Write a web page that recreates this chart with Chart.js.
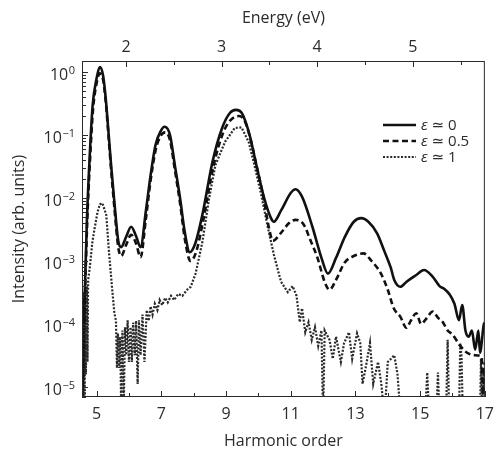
<!DOCTYPE html>
<html>
<head>
<meta charset="utf-8">
<script src="https://cdn.jsdelivr.net/npm/chart.js@4.4.1/dist/chart.umd.min.js"></script>
<style>
  html, body { margin: 0; background: #fff; }
  #wrap { width: 502px; height: 452px; }
</style>
</head>
<body>
<div id="wrap"><canvas id="hhg"></canvas></div>
<script>
// harmonic order / intensity
const orders0 = [4.55, 4.62, 4.70, 4.79, 4.88, 5.00, 5.10, 5.20, 5.28, 5.36, 5.45, 5.55, 5.67, 5.76, 5.91, 6.07, 6.22, 6.36, 6.52, 6.67, 6.82, 6.97, 7.10, 7.27, 7.42, 7.58, 7.73, 7.88, 8.05, 8.27, 8.58, 8.88, 9.12, 9.30, 9.50, 9.73, 9.94, 10.18, 10.39, 10.48, 10.70, 11.00, 11.15, 11.35, 11.67, 11.95, 12.15, 12.40, 12.67, 12.95, 13.18, 13.40, 13.67, 13.90, 14.09, 14.20, 14.39, 14.58, 14.88, 15.12, 15.39, 15.60, 15.75, 15.90, 16.06, 16.20, 16.30, 16.40, 16.50, 16.60, 16.70, 16.80, 16.85, 16.97, 17.00];
const eps0 = [3.2e-6, 1.6e-4, 4.2e-3, 4.8e-2, 0.30, 0.79, 1.2, 0.89, 0.40, 0.126, 0.033, 8.7e-3, 2.1e-3, 1.66e-3, 2.4e-3, 3.5e-3, 2.5e-3, 1.66e-3, 6.0e-3, 0.023, 0.069, 0.112, 0.135, 0.100, 0.033, 0.010, 2.8e-3, 1.38e-3, 1.9e-3, 5.4e-3, 0.037, 0.129, 0.224, 0.251, 0.219, 0.100, 0.033, 0.010, 4.8e-3, 4.2e-3, 6.3e-3, 0.012, 0.0138, 0.0105, 3.5e-3, 1.12e-3, 6.3e-4, 1.12e-3, 2.4e-3, 4.2e-3, 4.8e-3, 4.2e-3, 2.75e-3, 1.41e-3, 7.9e-4, 5.0e-4, 3.9e-4, 4.7e-4, 6.0e-4, 7.2e-4, 5.6e-4, 4.0e-4, 3.6e-4, 3.0e-4, 2.1e-4, 1.15e-4, 2.0e-4, 7.9e-5, 6.3e-5, 7.9e-5, 3.9e-5, 7.9e-5, 3.5e-5, 1.0e-4, 1.05e-4];

const orders05 = [4.55, 4.63, 4.71, 4.80, 4.89, 5.00, 5.10, 5.20, 5.28, 5.36, 5.45, 5.55, 5.67, 5.76, 5.91, 6.07, 6.22, 6.36, 6.52, 6.67, 6.82, 6.97, 7.12, 7.27, 7.42, 7.58, 7.73, 7.90, 8.08, 8.30, 8.60, 8.90, 9.15, 9.40, 9.58, 9.75, 9.96, 10.18, 10.32, 10.45, 10.70, 10.95, 11.15, 11.40, 11.60, 11.82, 12.06, 12.20, 12.40, 12.67, 12.95, 13.25, 13.50, 13.79, 14.00, 14.18, 14.39, 14.58, 14.70, 14.88, 15.03, 15.18, 15.39, 15.55, 15.70, 15.85, 16.00, 16.24, 16.45, 16.70, 16.90, 16.95, 17.00];
const eps05 = [3.2e-6, 1.6e-4, 4.0e-3, 0.042, 0.25, 0.66, 0.95, 0.76, 0.355, 0.112, 0.028, 7.1e-3, 1.66e-3, 1.2e-3, 1.78e-3, 2.6e-3, 1.9e-3, 1.15e-3, 4.5e-3, 0.019, 0.056, 0.095, 0.11, 0.083, 0.028, 8.3e-3, 2.2e-3, 1.0e-3, 1.41e-3, 4.5e-3, 0.030, 0.105, 0.174, 0.20, 0.166, 0.089, 0.030, 8.9e-3, 3.5e-3, 2.1e-3, 2.8e-3, 4.0e-3, 4.5e-3, 3.8e-3, 2.2e-3, 1.15e-3, 4.5e-4, 3.5e-4, 5.0e-4, 9.5e-4, 1.2e-3, 1.32e-3, 1.0e-3, 6.3e-4, 3.5e-4, 1.8e-4, 1.3e-4, 8.7e-5, 1.1e-4, 1.48e-4, 1.0e-4, 1.2e-4, 1.58e-4, 1.26e-4, 1.07e-4, 7.9e-5, 6.8e-5, 4.5e-5, 3.5e-5, 3.2e-5, 3.0e-5, 6.3e-6, 2.5e-5];

const orders1 = [4.55, 4.57, 4.59, 4.61, 4.63, 4.65, 4.67, 4.70, 4.72, 4.74, 4.79, 4.87, 4.94, 5.03, 5.10, 5.18, 5.30, 5.39, 5.48, 5.55, 5.60, 5.63, 5.66, 5.70, 5.73, 5.76, 5.80, 5.84, 5.88, 5.92, 5.96, 6.00, 6.05, 6.09, 6.13, 6.18, 6.22, 6.27, 6.31, 6.36, 6.42, 6.48, 6.55, 6.61, 6.67, 6.73, 6.80, 6.88, 6.95, 7.03, 7.12, 7.20, 7.30, 7.40, 7.52, 7.65, 7.80, 7.91, 8.06, 8.27, 8.48, 8.67, 8.97, 9.27, 9.48, 9.70, 9.88, 10.09, 10.30, 10.48, 10.70, 10.91, 11.06, 11.18, 11.28, 11.35, 11.45, 11.55, 11.65, 11.75, 11.85, 11.95, 12.00, 12.05, 12.20, 12.30, 12.40, 12.55, 12.65, 12.80, 12.90, 13.05, 13.15, 13.22, 13.35, 13.45, 13.55, 13.70, 13.80, 13.90, 14.00, 14.10, 14.20, 14.30, 14.40, 15.15, 15.22, 15.28, 15.50, 15.55, 15.60, 15.80, 15.85, 15.90, 16.20, 16.24, 16.28, 16.32, 16.85, 16.88, 16.92, 16.96, 17.00];
const eps1 = [5e-6, 2.5e-4, 5e-6, 3.2e-4, 5e-6, 4e-4, 1.6e-5, 4e-4, 2.5e-5, 5e-4, 7.8e-4, 2.0e-3, 3.3e-3, 6.0e-3, 7.9e-3, 8.3e-3, 5.4e-3, 1.26e-3, 3.7e-4, 1.5e-4, 1.12e-4, 2.0e-5, 7.1e-5, 2.0e-5, 6.3e-5, 5e-6, 7.9e-5, 5e-6, 8.9e-5, 3.2e-5, 1.15e-4, 2.5e-5, 8.9e-5, 2.5e-5, 1.05e-4, 3.2e-5, 1.12e-4, 1.12e-5, 1.15e-4, 3.2e-5, 1.41e-4, 2.5e-5, 1.66e-4, 1.12e-4, 1.9e-4, 1.41e-4, 2.1e-4, 1.66e-4, 2.4e-4, 2.0e-4, 2.6e-4, 2.2e-4, 2.8e-4, 2.4e-4, 3.0e-4, 2.8e-4, 3.5e-4, 3.9e-4, 6.3e-4, 2.0e-3, 0.010, 0.033, 0.078, 0.129, 0.132, 0.078, 0.033, 0.0112, 3.3e-3, 1.26e-3, 4.7e-4, 3.2e-4, 4.0e-4, 2.8e-4, 1.07e-4, 1.78e-4, 7.4e-5, 1.07e-4, 5.6e-5, 8.9e-5, 4.5e-5, 7.9e-5, 3.2e-6, 7.9e-5, 5.6e-5, 2.8e-5, 6.3e-5, 2.5e-5, 5.0e-5, 7.4e-5, 2.8e-5, 7.1e-5, 5.0e-5, 1.12e-5, 2.5e-5, 5.0e-5, 1.12e-5, 2.5e-5, 1.12e-5, 3.2e-6, 2.5e-5, 2.8e-5, 3.2e-5, 1.6e-5, 3.2e-6, 3.2e-6, 1.7e-5, 3.2e-6, 3.2e-6, 1.7e-5, 3.2e-6, 3.2e-6, 5.6e-5, 3.2e-6, 3.2e-6, 5.0e-5, 3.0e-5, 3.2e-6, 3.2e-6, 2.8e-5, 3.2e-6, 2.0e-5, 3.2e-6];

const seriesLabels = ['0', '0.5', '1'];
const xTicks = [5, 6, 7, 8, 9, 10, 11, 12, 13, 14, 15, 16, 17];
const xLabels = [5, 7, 9, 11, 13, 15, 17];
const energyTicks = [2, 2.5, 3, 3.5, 4, 4.5, 5, 5.5];
const energyLabels = [2, 3, 4, 5];
const yPowers = [0, -1, -2, -3, -4, -5];

const EV_PER_ORDER = 0.3385;
const X_MIN = 4.55, X_MAX = 17;
const INK = '#2b2b2b';
const FONT = '"Open Sans", "DejaVu Sans", sans-serif';

const pts = (xs, ys) => xs.map((x, i) => ({ x, y: ys[i] }));

// inward ticks, frame, y labels and legend
const decor = {
  id: 'decor',
  afterDraw(chart) {
    const { ctx, chartArea: a, scales } = chart;
    ctx.save();
    ctx.strokeStyle = INK;
    ctx.lineWidth = 1;
    const seg = (x1, y1, x2, y2) => { ctx.beginPath(); ctx.moveTo(x1, y1); ctx.lineTo(x2, y2); ctx.stroke(); };
    ctx.strokeRect(a.left + 0.5, a.top + 0.5, a.right - a.left - 1, a.bottom - a.top - 1);

    scales.x.ticks.forEach(t => {
      const px = Math.round(scales.x.getPixelForValue(t.value)) + 0.5;
      seg(px, a.bottom, px, a.bottom - (xLabels.includes(t.value) ? 6 : 4));
    });
    scales.x2.ticks.forEach(t => {
      const px = Math.round(scales.x2.getPixelForValue(t.value)) + 0.5;
      seg(px, a.top, px, a.top + (energyLabels.includes(t.value) ? 6 : 4));
    });
    scales.y.ticks.forEach(t => {
      const py = Math.round(scales.y.getPixelForValue(t.value)) + 0.5;
      const major = yPowers.some(p => Math.abs(Math.log10(t.value) - p) < 1e-6);
      seg(a.left, py, a.left + (major ? 6 : 4), py);
    });

    // y tick labels as 10 with raised exponent
    ctx.fillStyle = INK;
    ctx.textBaseline = 'alphabetic';
    yPowers.forEach(p => {
      const py = scales.y.getPixelForValue(Math.pow(10, p));
      const exp = p === 0 ? '0' : '\u2212' + (-p);
      ctx.font = '11px ' + FONT;
      const ew = ctx.measureText(exp).width;
      const right = a.left - 7;
      ctx.textAlign = 'left';
      ctx.fillText(exp, right - ew, py + 2);
      ctx.font = '16px ' + FONT;
      ctx.textAlign = 'right';
      ctx.fillText('10', right - ew - 0.5, py + 8);
    });

    // legend
    chart.data.datasets.forEach((ds, i) => {
      const y = 125 + i * 16;
      ctx.save();
      ctx.strokeStyle = ds.borderColor;
      ctx.lineWidth = ds.borderWidth;
      ctx.setLineDash(ds.borderDash || []);
      seg(383, y, 416, y);
      ctx.restore();
      ctx.textAlign = 'left';
      ctx.font = 'italic 15px ' + FONT;
      ctx.fillText('\u03b5', 421, y + 5);
      const ew = ctx.measureText('\u03b5').width;
      ctx.font = '15px ' + FONT;
      ctx.fillText(' \u2243 ' + seriesLabels[i], 421 + ew, y + 5);
    });
    ctx.restore();
  }
};

new Chart(document.getElementById('hhg'), {
  type: 'line',
  data: {
    datasets: [
      {
        label: 'ε ≃ 0',
        data: pts(orders0, eps0),
        borderColor: '#111',
        borderWidth: 2.6,
        pointRadius: 0,
        cubicInterpolationMode: 'monotone',
      },
      {
        label: 'ε ≃ 0.5',
        data: pts(orders05, eps05),
        borderColor: '#111',
        borderWidth: 2.6,
        borderDash: [6, 3.5],
        pointRadius: 0,
        cubicInterpolationMode: 'monotone',
      },
      {
        label: 'ε ≃ 1',
        data: pts(orders1, eps1),
        borderColor: '#2a2a2a',
        borderWidth: 2.2,
        borderDash: [2, 1.6],
        pointRadius: 0,
        tension: 0,
      }
    ]
  },
  options: {
    responsive: true,
    maintainAspectRatio: false,
    animation: false,
    layout: { padding: { left: 0, right: 7, top: 0, bottom: 0 } },
    plugins: { legend: { display: false }, tooltip: { enabled: false } },
    scales: {
      x: {
        type: 'linear',
        position: 'bottom',
        min: X_MIN,
        max: X_MAX,
        afterBuildTicks: s => { s.ticks = xTicks.map(v => ({ value: v })); },
        afterFit: s => { s.height = 55; },
        grid: { display: false, drawTicks: false },
        border: { display: false },
        ticks: {
          autoSkip: false, maxRotation: 0, padding: 8,
          color: INK, font: { family: FONT, size: 16 },
          callback: v => xLabels.includes(v) ? String(v) : ''
        },
        title: {
          display: true, text: 'Harmonic order', color: INK,
          font: { family: FONT, size: 16 }, padding: { top: 0, bottom: 1 }
        }
      },
      x2: {
        type: 'linear',
        position: 'top',
        min: X_MIN * EV_PER_ORDER,
        max: X_MAX * EV_PER_ORDER,
        afterBuildTicks: s => { s.ticks = energyTicks.map(v => ({ value: v })); },
        afterFit: s => { s.height = 61; },
        grid: { display: false, drawTicks: false },
        border: { display: false },
        ticks: {
          autoSkip: false, maxRotation: 0, padding: 4,
          color: INK, font: { family: FONT, size: 16 },
          callback: v => energyLabels.includes(v) ? String(v) : ''
        },
        title: {
          display: true, text: 'Energy (eV)', color: INK,
          font: { family: FONT, size: 16 }, padding: { top: 9, bottom: 0 }
        }
      },
      y: {
        type: 'logarithmic',
        min: 6.94e-6,
        max: 1.496,
        afterBuildTicks: s => {
          const t = [];
          for (let p = -6; p <= 0; p++) {
            for (let m = 1; m <= 9; m++) {
              const v = m * Math.pow(10, p);
              if (v >= s.min && v <= s.max) t.push({ value: v });
            }
          }
          s.ticks = t;
        },
        afterFit: s => { s.width = 82; },
        grid: { display: false, drawTicks: false },
        border: { display: false },
        ticks: { autoSkip: false, callback: () => '' },
        title: {
          display: true, text: 'Intensity (arb. units)', color: INK,
          font: { family: FONT, size: 16 }, padding: { top: 10, bottom: 0 }
        }
      }
    }
  },
  plugins: [decor]
});
</script>
</body>
</html>
